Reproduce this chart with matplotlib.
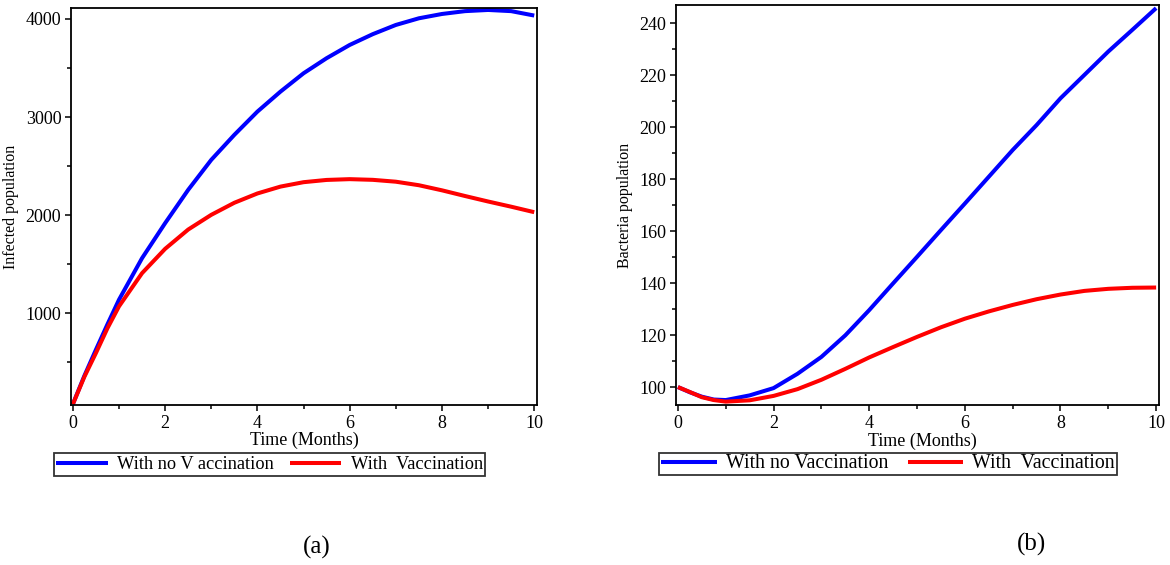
import matplotlib
matplotlib.use("Agg")
import matplotlib.pyplot as plt
from matplotlib.ticker import MultipleLocator

plt.rcParams["font.family"] = ["Liberation Serif", "DejaVu Serif"]

# time grid (months)
t = [0, 0.25, 0.5, 0.75, 1, 1.5, 2, 2.5, 3, 3.5, 4, 4.5, 5, 5.5, 6, 6.5, 7, 7.5, 8, 8.5, 9, 9.5, 10]

# (a) infected population
infected_no_vacc = [70, 360, 626, 885, 1136, 1560, 1917, 2257, 2563, 2818, 3055, 3259, 3446, 3600,
                    3735, 3845, 3939, 4007, 4051, 4080, 4092, 4080, 4035]
infected_vacc = [70, 350, 592, 845, 1068, 1407, 1655, 1852, 2002, 2125, 2220, 2290, 2335, 2358,
                 2366, 2359, 2340, 2304, 2252, 2194, 2138, 2085, 2029]

# (b) bacteria population
bacteria_no_vacc = [100, 98.0, 96.3, 95.2, 95.0, 96.8, 99.6, 105.1, 111.6, 119.9, 129.6, 139.9, 150.1,
                    160.4, 170.6, 180.9, 191.2, 200.8, 211.1, 220.1, 229.1, 237.4, 245.8]
bacteria_vacc = [100, 98.1, 96.1, 95.0, 94.4, 94.9, 96.6, 99.2, 102.8, 107.0, 111.4, 115.4, 119.3,
                 123.0, 126.3, 129.1, 131.6, 133.8, 135.6, 137.0, 137.8, 138.2, 138.3]

BLUE = "#0000ff"
RED = "#ff0000"

fig = plt.figure(figsize=(11.7, 5.65), dpi=100)

ax_a = fig.add_axes([71 / 1170, 1 - 405 / 565, 466 / 1170, 397 / 565])
ax_b = fig.add_axes([676 / 1170, 1 - 405 / 565, 483 / 1170, 400 / 565])


def style_axes(ax, ylabel, ylab_x, xlab_x):
    for sp in ax.spines.values():
        sp.set_linewidth(1.3)
        sp.set_color("black")
    ax.set_xlim(-0.04, 10.06)
    ax.xaxis.set_major_locator(MultipleLocator(2))
    ax.xaxis.set_minor_locator(MultipleLocator(1))
    ax.tick_params(which="both", direction="out", width=1.1, labelsize=13, color="black")
    ax.tick_params(which="major", length=4.5)
    ax.tick_params(which="minor", length=3)
    ax.tick_params(axis="x", pad=3)
    ax.tick_params(axis="y", pad=2.5)
    ax.set_xlabel("Time (Months)", fontsize=13)
    ax.xaxis.set_label_coords(xlab_x, -0.068)
    ax.set_ylabel(ylabel, fontsize=11.5)
    ax.yaxis.set_label_coords(ylab_x, 0.5)


# ---- panel (a)
l1, = ax_a.plot(t, infected_no_vacc, color=BLUE, lw=2.9, solid_capstyle="butt")
l2, = ax_a.plot(t, infected_vacc, color=RED, lw=2.9, solid_capstyle="butt")
ax_a.set_ylim(62, 4112)
ax_a.set_yticks([1000, 2000, 3000, 4000])
ax_a.yaxis.set_minor_locator(MultipleLocator(500))
style_axes(ax_a, "Infected population", -0.112, 0.5)

fig.legend([l1, l2], ["With no V accination", "With  Vaccination"],
           loc="center", bbox_to_anchor=(269.5 / 1170, 1 - 464.5 / 565), ncol=2,
           fontsize=13.2, frameon=True, fancybox=False, edgecolor="black",
           handlelength=2.8, handletextpad=0.5, columnspacing=0.9, borderpad=0.15,
           borderaxespad=0).get_frame().set_linewidth(1.3)

# ---- panel (b)
l3, = ax_b.plot(t, bacteria_no_vacc, color=BLUE, lw=2.9, solid_capstyle="butt")
l4, = ax_b.plot(t, bacteria_vacc, color=RED, lw=2.9, solid_capstyle="butt")
ax_b.set_ylim(93.1, 247)
ax_b.yaxis.set_major_locator(MultipleLocator(20))
ax_b.yaxis.set_minor_locator(MultipleLocator(10))
style_axes(ax_b, "Bacteria population", -0.088, 0.51)

fig.legend([l3, l4], ["With no Vaccination", "With  Vaccination"],
           loc="center", bbox_to_anchor=(888 / 1170, 1 - 464 / 565), ncol=2,
           fontsize=14.3, frameon=True, fancybox=False, edgecolor="black",
           handlelength=2.8, handletextpad=0.45, columnspacing=1.0, borderpad=0.1,
           borderaxespad=0).get_frame().set_linewidth(1.3)

# sub-figure captions
fig.text(317 / 1170, 1 - 547 / 565, "(a)", fontsize=18, ha="center", va="center")
fig.text(1032 / 1170, 1 - 544 / 565, "(b)", fontsize=18, ha="center", va="center")

fig.savefig("out.png", dpi=100, facecolor="white")
